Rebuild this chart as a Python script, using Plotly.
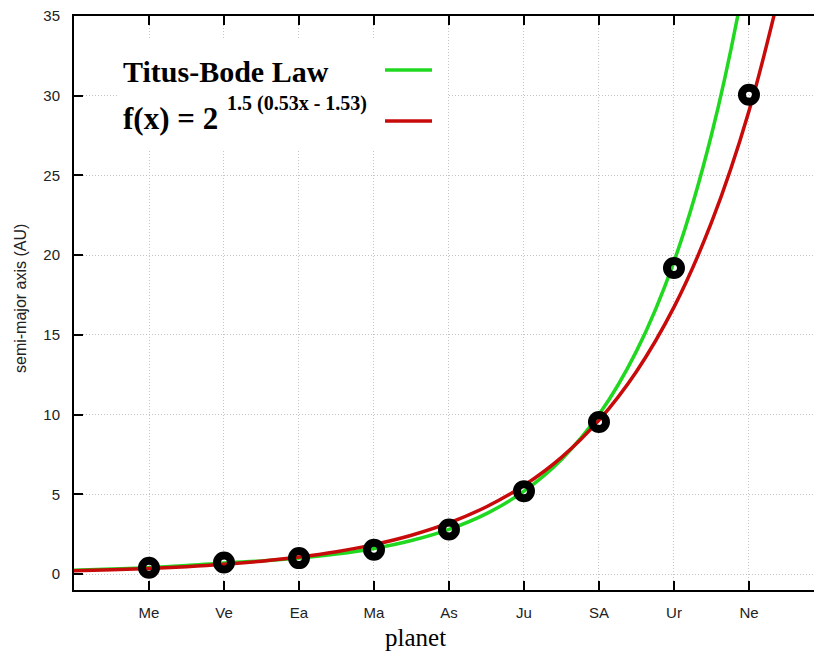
import plotly.graph_objects as go

# ---- data ----
planets = ["Me", "Ve", "Ea", "Ma", "As", "Ju", "SA", "Ur", "Ne"]
planet_pos = [1, 2, 3, 4, 5, 6, 7, 8, 9]
semi_major = [0.39, 0.72, 1.0, 1.52, 2.8, 5.2, 9.54, 19.2, 30.06]

curve_x = [0, 0.5, 1, 1.5, 2, 2.5, 3, 3.5, 4, 4.5, 5, 5.5, 6, 6.5, 7, 7.5, 8, 8.5, 9, 9.5]
green_y = [0.24, 0.31, 0.40, 0.53, 0.70, 0.82, 1.0, 1.25, 1.6, 2.1, 2.8, 3.79, 5.2, 7.19,
           10.0, 13.98, 19.6, 27.55, 38.8, 55.0]
red_y = [0.204, 0.268, 0.354, 0.466, 0.613, 0.808, 1.064, 1.402, 1.847, 2.433, 3.204, 4.22,
         5.56, 7.32, 9.65, 12.71, 16.74, 22.05, 29.04, 38.3]

y_ticks = [0, 5, 10, 15, 20, 25, 30, 35]

GREEN = "#1fd81f"
RED = "#c80a0a"

fig = go.Figure()
fig.add_trace(go.Scatter(x=curve_x, y=green_y, mode="lines",
                         line=dict(color=GREEN, width=3.5, shape="spline"),
                         showlegend=False, hoverinfo="skip"))
fig.add_trace(go.Scatter(x=curve_x, y=red_y, mode="lines",
                         line=dict(color=RED, width=3.5, shape="spline"),
                         showlegend=False, hoverinfo="skip"))
fig.add_trace(go.Scatter(x=planet_pos, y=semi_major, mode="markers",
                         marker=dict(symbol="circle-open", size=14, color="black",
                                     line=dict(width=8, color="black")),
                         showlegend=False))

# legend box (white) and legend line samples
fig.add_shape(type="rect", xref="paper", yref="paper", x0=0.058, x1=0.504, y0=0.767, y1=0.958,
              fillcolor="white", line=dict(width=0), layer="above")
fig.add_shape(type="line", xref="paper", yref="paper", x0=0.4203, x1=0.4838, y0=0.9059, y1=0.9059,
              line=dict(color=GREEN, width=3.5), layer="above")
fig.add_shape(type="line", xref="paper", yref="paper", x0=0.4203, x1=0.4838, y0=0.817, y1=0.817,
              line=dict(color=RED, width=3.5), layer="above")

serif = "Liberation Serif, Times New Roman, serif"
fig.add_annotation(xref="paper", yref="paper", x=0.0635, y=0.904, xanchor="left", yanchor="middle",
                   text="<b>Titus-Bode Law</b>", showarrow=False,
                   font=dict(family=serif, size=30, color="black"))
fig.add_annotation(xref="paper", yref="paper", x=0.0635, y=0.822, xanchor="left", yanchor="middle",
                   text="<b>f(x) = 2</b>", showarrow=False,
                   font=dict(family=serif, size=31, color="black"))
fig.add_annotation(xref="paper", yref="paper", x=0.2041, y=0.847, xanchor="left", yanchor="middle",
                   text="<b>1.5 (0.53x - 1.53)</b>", showarrow=False,
                   font=dict(family=serif, size=20, color="black"))

# axis titles
fig.add_annotation(xref="paper", yref="paper", x=0.461, y=-0.0836, xanchor="center", yanchor="middle",
                   text="planet", showarrow=False,
                   font=dict(family=serif, size=25, color="black"))
fig.add_annotation(xref="paper", yref="paper", x=-0.0716, y=0.507, xanchor="center", yanchor="middle",
                   text="semi-major axis (AU)", textangle=-90, showarrow=False,
                   font=dict(family="Liberation Sans, Arial, sans-serif", size=16, color="#222"))

fig.update_layout(
    width=814, height=651,
    margin=dict(l=74, r=0, t=16, b=61),
    paper_bgcolor="white", plot_bgcolor="white",
    font=dict(family="Liberation Sans, Arial, sans-serif", size=15, color="#222"),
)
fig.update_xaxes(range=[0, 9.867], tickmode="array", tickvals=planet_pos, ticktext=planets,
                 showline=True, linecolor="black", linewidth=2, mirror="ticks",
                 ticks="inside", ticklen=9, tickwidth=2, tickcolor="black",
                 showgrid=True, gridcolor="#c4c4c4", griddash="1px,2px", gridwidth=1,
                 zeroline=False, ticklabelstandoff=8)
fig.update_yaxes(range=[-1.0, 35.0], tickmode="array", tickvals=y_ticks,
                 showline=True, linecolor="black", linewidth=2, mirror=False,
                 ticks="inside", ticklen=9, tickwidth=2, tickcolor="black",
                 showgrid=True, gridcolor="#c4c4c4", griddash="1px,2px", gridwidth=1,
                 zeroline=False, ticklabelstandoff=9)

fig.write_html("out.html")
